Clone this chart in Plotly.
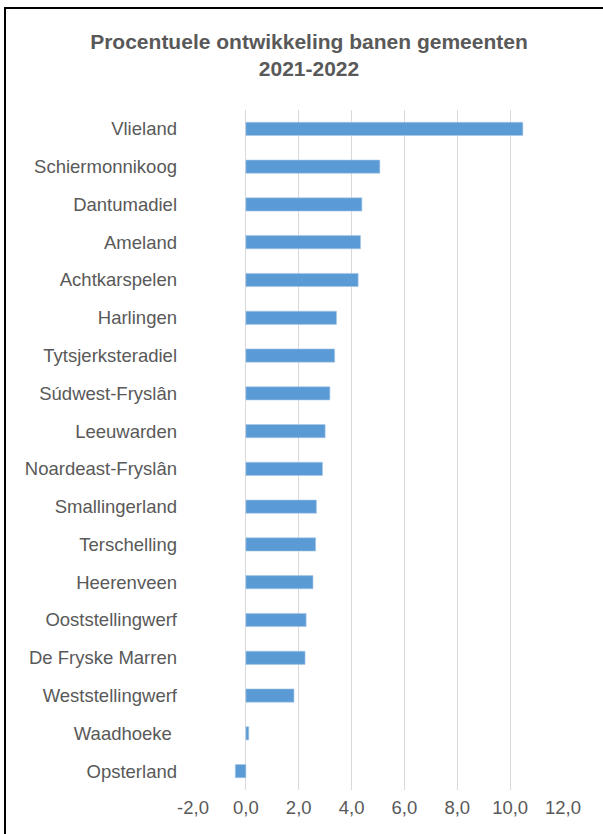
import plotly.graph_objects as go

categories = ["Vlieland", "Schiermonnikoog", "Dantumadiel", "Ameland", "Achtkarspelen",
              "Harlingen", "Tytsjerksteradiel", "Súdwest-Fryslân", "Leeuwarden",
              "Noardeast-Fryslân", "Smallingerland", "Terschelling", "Heerenveen",
              "Ooststellingwerf", "De Fryske Marren", "Weststellingwerf", "Waadhoeke\u00a0",
              "Opsterland"]
values = [10.48, 5.07, 4.39, 4.34, 4.25, 3.43, 3.36, 3.18, 3.00, 2.90, 2.67, 2.64,
          2.54, 2.28, 2.24, 1.82, 0.11, -0.40]
tick_vals = [-2, 0, 2, 4, 6, 8, 10, 12]
tick_text = ["-2,0", "0,0", "2,0", "4,0", "6,0", "8,0", "10,0", "12,0"]
title_text = "<b>Procentuele ontwikkeling banen gemeenten<br>2021-2022</b>"

W, H = 603, 834
L, R, T, B = 193, 40, 110, 44
pw, ph = W - L - R, H - T - B

fig = go.Figure(go.Bar(
    y=categories, x=values, orientation="h",
    marker=dict(color="#5B9BD5", line=dict(color="#A9C8EA", width=0.6)),
))

def px2x(p):
    return (p - L) / pw

def py2y(p):
    return 1 - (p - T) / ph

# outer chart border (left and top visible, right/bottom beyond the canvas)
fig.add_shape(type="rect", xref="paper", yref="paper",
              x0=px2x(5), x1=px2x(640), y0=py2y(900), y1=py2y(8),
              line=dict(color="black", width=2), fillcolor="rgba(0,0,0,0)", layer="above")

FONT = "Liberation Sans, Arial, sans-serif"
fig.update_layout(
    width=W, height=H,
    margin=dict(l=L, r=R, t=T, b=B),
    paper_bgcolor="white", plot_bgcolor="white",
    font=dict(family=FONT, color="#595959", size=18.5),
    title=dict(text=title_text, x=309 / W, xanchor="center", y=1 - 49 / H, yanchor="middle",
               font=dict(size=21, color="#595959", family=FONT)),
    bargap=0.65,
    showlegend=False,
    xaxis=dict(range=[-2, 12], tickvals=tick_vals, ticktext=tick_text,
               showgrid=True, gridcolor="#D9D9D9", gridwidth=1.3,
               zeroline=False, showline=False, ticks="",
               tickfont=dict(size=18.5, color="#595959"), ticklabelstandoff=4),
    yaxis=dict(categoryorder="array", categoryarray=categories[::-1],
               range=[-0.5, len(categories) - 0.5],
               showgrid=False, zeroline=False, showline=False, ticks="",
               tickfont=dict(size=18.5, color="#595959"), ticklabelstandoff=15),
)

fig.write_html("out.html", config={"displayModeBar": False},
               post_script="document.body.style.margin='0';")
